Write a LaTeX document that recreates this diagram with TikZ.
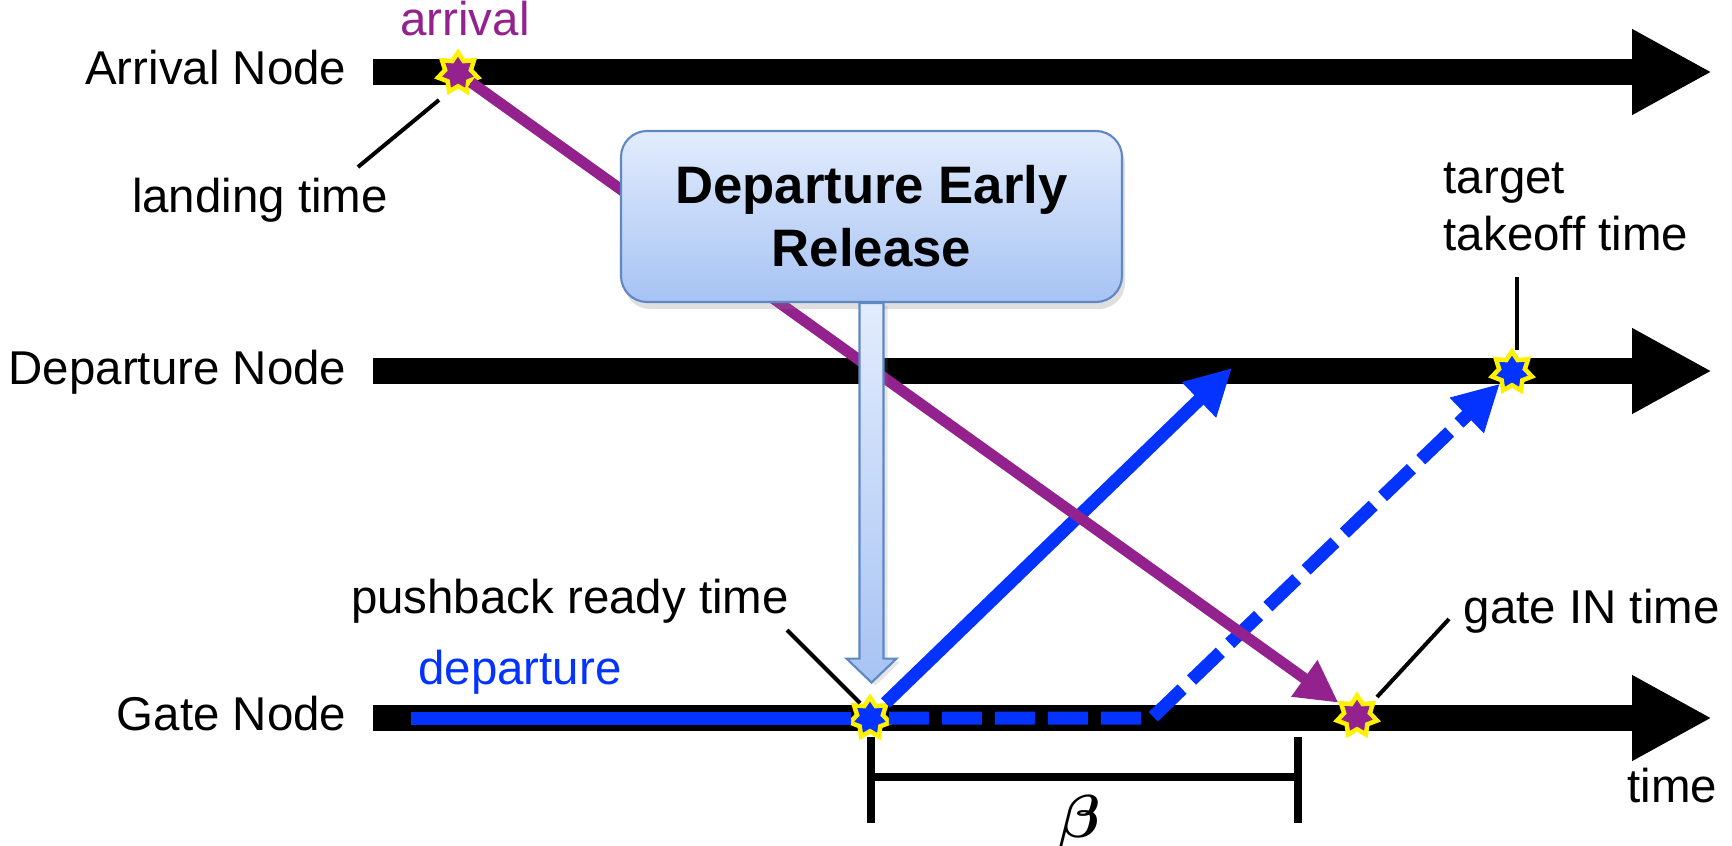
\documentclass[tikz,border=0pt]{standalone}
\usepackage{fontspec}
\setmainfont{Liberation Sans}
\usepackage{bm}
\usetikzlibrary{arrows.meta,shapes.geometric,shadows}

\definecolor{flightpurple}{RGB}{147,34,143}
\definecolor{flightblue}{RGB}{4,51,255}
\definecolor{boxtop}{RGB}{226,236,253}
\definecolor{boxbottom}{RGB}{167,195,243}
\definecolor{boxedge}{RGB}{95,135,195}

\tikzset{
  timeline/.style={line width=0.26cm, -{Triangle[length=0.8cm,width=0.8cm]}},
  event/.style={star, star points=7, star point ratio=1.55, minimum size=0.41cm,
    inner sep=0pt, draw=yellow, line width=0.045cm},
  leader/.style={line width=0.04cm},
  lbl/.style={font=\fontsize{13.5}{16.2}\selectfont, inner sep=0pt},
  flow/.style={line width=0.13cm, flightblue, -{Triangle[length=0.46cm,width=0.46cm]}},
  relbox/.style={rounded corners=0.26cm, minimum width=5.01cm, minimum height=1.71cm,
    draw=boxedge, line width=0.6pt, top color=boxtop, bottom color=boxbottom,
    align=center, font=\bfseries\fontsize{15}{18}\selectfont,
    drop shadow={shadow xshift=0.03cm, shadow yshift=-0.07cm, opacity=0.25}},
}

\begin{document}
\begin{tikzpicture}
        \useasboundingbox (0,0) rectangle (17.32,8.45);

        % Time lines of the three nodes
        \draw[timeline] (3.73,7.73) -- (17.12,7.73);
        \draw[timeline] (3.73,4.74) -- (17.12,4.74);
        \draw[timeline] (3.73,1.27) -- (17.12,1.27);

        \node[lbl, anchor=base east] (arrnode) at (3.47,7.60) {Arrival Node};
        \node[lbl, anchor=base east] (depnode) at (3.47,4.61) {Departure Node};
        \node[lbl, anchor=base east] (gatenode) at (3.47,1.15) {Gate Node};
        \node[lbl, anchor=base west] (timelbl) at (16.27,0.43) {time};

        % Event markers
        \node[event, fill=flightpurple] (land) at (4.58,7.72) {};
        \node[event, fill=flightblue] (push) at (8.70,1.27) {};
        \node[event, fill=flightblue] (tko) at (15.12,4.73) {};
        \node[event, fill=flightpurple] (gin) at (13.57,1.29) {};

        % Departure flight
        \coordinate (depstart) at (4.11,1.27);
        \coordinate (rel) at (12.32,4.77);
        \coordinate (corner) at (11.52,1.27);
        \draw[flow, -] (depstart) -- (push);
        \draw[flow] (push) -- (rel);
        \draw[flow, dash pattern=on 0.4cm off 0.13cm] (push) -- (corner) -- (tko);

        % Arrival flight
        \draw[line width=0.11cm, flightpurple, -{Triangle[length=0.42cm,width=0.42cm]}] (land) -- (gin);

        % Labels
        \node[lbl, text=flightpurple, anchor=base] (arrlbl) at (4.65,8.09) {arrival};
        \node[lbl, text=flightblue, anchor=base] (deplbl) at (5.20,1.61) {departure};
        \node[lbl, anchor=base] (landlbl) at (2.60,6.33) {landing time};
        \node[lbl, anchor=base] (pushlbl) at (5.70,2.32) {pushback ready time};
        \node[lbl, anchor=south west, align=left] (tkolbl) at (14.43,5.93) {target\\takeoff time};
        \node[lbl, anchor=base west] (ginlbl) at (14.63,2.22) {gate IN time};

        % Leader lines
        \draw[leader] ([shift={(-0.19,-0.27)}]land.center) -- ([shift={(0.98,0.45)}]landlbl.base);
        \draw[leader] ([shift={(2.17,-0.17)}]pushlbl.base) -- ([shift={(-0.10,0.15)}]push.center);
        \draw[leader] ([shift={(0.74,-0.25)}]tkolbl.south west) -- ([shift={(0.05,0.22)}]tko.center);
        \draw[leader] ([shift={(-0.14,0.04)}]ginlbl.base west) -- ([shift={(0.20,0.19)}]gin.center);

        % Early release callout
        \node[relbox] (der) at (8.715,6.285) {Departure Early\\Release};
        \path[draw=boxedge, line width=0.6pt, top color=boxtop, bottom color=boxbottom,
              drop shadow={shadow xshift=0.04cm, shadow yshift=-0.03cm, opacity=0.2}]
              (der.south) ++(-0.12,0) -- ++(0,-3.555) -- ++(-0.13,0) -- ++(0.25,-0.24)
              -- ++(0.25,0.24) -- ++(-0.13,0) -- ++(0,3.555) -- cycle;

        % Buffer beta
        \draw[line width=0.08cm] (8.71,1.08) -- (8.71,0.22);
        \draw[line width=0.08cm] (12.98,1.08) -- (12.98,0.22);
        \draw[line width=0.08cm] (8.71,0.68) -- (12.98,0.68);
        \node[font=\fontsize{17}{20}\selectfont, anchor=base] (betalbl) at (10.80,0.08) {$\bm{\beta}$};
\end{tikzpicture}
\end{document}
